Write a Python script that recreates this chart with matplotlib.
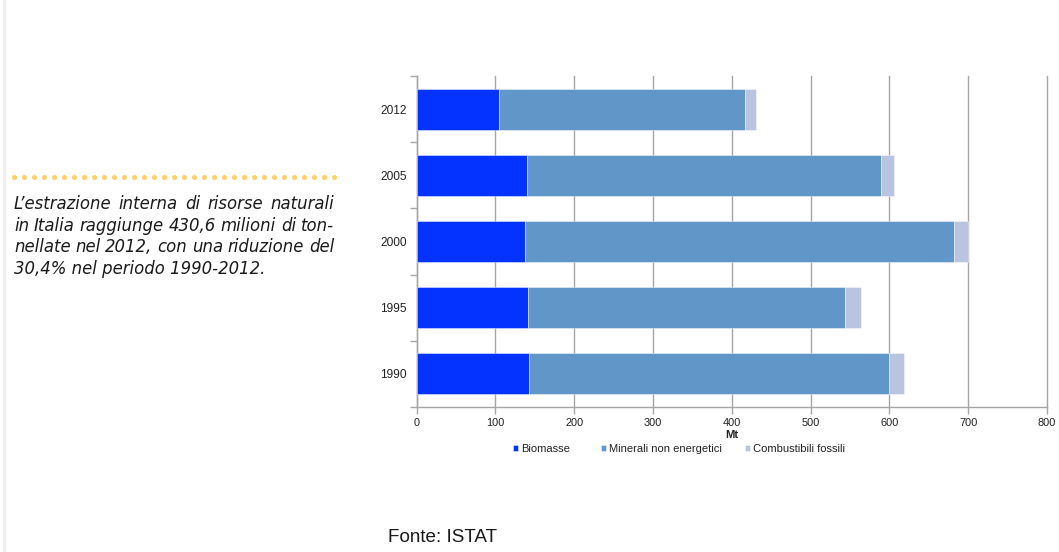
import numpy as np
import matplotlib.pyplot as plt

plt.rcParams['font.family'] = ['Liberation Sans', 'DejaVu Sans']

# Estrazione interna di risorse naturali (Mt)
anni = ["1990", "1995", "2000", "2005", "2012"]
biomasse = [142.5, 140.8, 137.4, 140.0, 104.4]
minerali = [457.2, 403.1, 544.6, 449.6, 312.2]
fossili = [18.7, 19.9, 18.0, 16.4, 14.0]

serie = ["Biomasse", "Minerali non energetici", "Combustibili fossili"]
colori = ["#0433FF", "#6096C8", "#B9C5E0"]

testo = [
    "L\u2019estrazione interna di risorse naturali",
    "in Italia raggiunge 430,6 milioni di ton-",
    "nellate nel 2012, con una riduzione del",
    "30,4% nel periodo 1990-2012.",
]

W, H = 1059, 552
fig = plt.figure(figsize=(W / 100, H / 100), dpi=100)

# bordo grigio chiaro a sinistra della pagina
fig.add_artist(plt.Line2D([3.5 / W, 3.5 / W], [0, 1], color="#EEEEEE", lw=2.5))

ax = fig.add_axes([416.7 / W, 1 - 407 / H, (1047 - 416.7) / W, (407 - 76) / H])

y = np.arange(len(anni))
left = np.zeros(len(anni))
for nome, valori, col in zip(serie, [biomasse, minerali, fossili], colori):
    ax.barh(y, valori, left=left, height=0.62, color=col, label=nome,
            edgecolor=(1, 1, 1, 0.5), linewidth=0.6, zorder=3)
    left += np.array(valori)

ax.set_xlim(0, 800)
ax.set_ylim(-0.5, len(anni) - 0.5)
ax.set_xticks(np.arange(0, 801, 100))
ax.set_yticks(y)
ax.set_yticklabels(anni)
ax.set_yticks(np.arange(-0.5, len(anni)), minor=True)
ax.grid(axis="x", color="#A6A6A6", lw=1.0, zorder=0)
for g in ax.get_xgridlines():
    g.set_clip_on(False)
ax.tick_params(axis="y", which="major", length=0, pad=7.3, labelsize=8.6, labelcolor="#222222")
ax.tick_params(axis="y", which="minor", length=5, color="#A6A6A6", width=1.0)
ax.tick_params(axis="x", length=5, color="#A6A6A6", width=1.0, labelsize=7.9,
               labelcolor="#222222", pad=3)
for s in ["top", "right"]:
    ax.spines[s].set_visible(False)
for s in ["left", "bottom"]:
    ax.spines[s].set_color("#A6A6A6")
    ax.spines[s].set_linewidth(1.0)

ax.set_xlabel("Mt", fontsize=8.2, fontweight="bold", labelpad=1, color="#222222")

# legenda: una voce per serie, ciascuna alla sua posizione
handles, labels = ax.get_legend_handles_labels()
for h, l, xm in zip(handles, labels, [512.5, 601, 745]):
    leg = fig.legend([h], [l], loc="center left", bbox_to_anchor=(xm / W, 1 - 449 / H),
                     frameon=False, fontsize=8.0, handlelength=0.46, handleheight=0.5,
                     handletextpad=0.3, borderpad=0, borderaxespad=0)
    for t in leg.get_texts():
        t.set_color("#222222")

# linea a punti sopra il testo
xs = np.arange(14, 336, 10)
fig.add_artist(plt.Line2D(xs / W, np.full(len(xs), 1 - 176.7 / H), ls="none",
                          marker="o", ms=3.6, mfc="#FDD06A", mec="none"))

# testo giustificato fra x=14 e x=334 (ultima riga allineata a sinistra)
renderer = fig.canvas.get_renderer()
x0, x1 = 14, 334
for i, riga in enumerate(testo):
    yb = 1 - (209 + i * 21.7) / H
    parole = riga.split(" ")
    kw = dict(fontsize=11.9, style="italic", family="DejaVu Sans", color="#1A1A1A",
              ha="left", va="baseline")
    if i == len(testo) - 1:
        fig.text(x0 / W, yb, riga, **kw)
        continue
    pezzi = [fig.text(0, yb, p, **kw) for p in parole]
    larg = [p.get_window_extent(renderer).width for p in pezzi]
    gap = (x1 - x0 - sum(larg)) / (len(parole) - 1)
    x = x0
    for p, w in zip(pezzi, larg):
        p.set_x(x / W)
        x += w + gap

fig.text(388 / W, 1 - 541.5 / H, "Fonte: ISTAT", fontsize=13.6, color="#1A1A1A",
         ha="left", va="baseline")

fig.savefig("out.png", dpi=100)
